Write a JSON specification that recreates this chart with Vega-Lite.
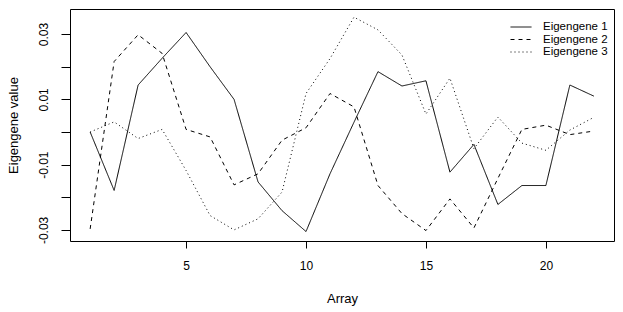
{
  "$schema": "https://vega.github.io/schema/vega-lite/v6.json",
  "width": 544,
  "height": 232,
  "autosize": {"type": "none"},
  "padding": {"left": 70, "top": 9, "right": 9, "bottom": 71},
  "background": "white",
  "config": {
    "font": "Liberation Sans",
    "view": {"stroke": "#000", "strokeWidth": 1},
    "axis": {"grid": false, "domain": false, "tickColor": "#000", "labelColor": "#000", "titleColor": "#000", "labelFont": "Liberation Sans", "titleFont": "Liberation Sans", "titleFontWeight": "normal"}
  },
  "data": {
    "values": [
      {"array": 1, "series": "Eigengene 1", "value": 0.0},
      {"array": 2, "series": "Eigengene 1", "value": -0.0179},
      {"array": 3, "series": "Eigengene 1", "value": 0.0144},
      {"array": 4, "series": "Eigengene 1", "value": 0.0226},
      {"array": 5, "series": "Eigengene 1", "value": 0.0305},
      {"array": 6, "series": "Eigengene 1", "value": 0.0200},
      {"array": 7, "series": "Eigengene 1", "value": 0.0100},
      {"array": 8, "series": "Eigengene 1", "value": -0.0153},
      {"array": 9, "series": "Eigengene 1", "value": -0.0241},
      {"array": 10, "series": "Eigengene 1", "value": -0.0305},
      {"array": 11, "series": "Eigengene 1", "value": -0.0128},
      {"array": 12, "series": "Eigengene 1", "value": 0.0030},
      {"array": 13, "series": "Eigengene 1", "value": 0.0185},
      {"array": 14, "series": "Eigengene 1", "value": 0.0141},
      {"array": 15, "series": "Eigengene 1", "value": 0.0157},
      {"array": 16, "series": "Eigengene 1", "value": -0.0123},
      {"array": 17, "series": "Eigengene 1", "value": -0.0038},
      {"array": 18, "series": "Eigengene 1", "value": -0.0222},
      {"array": 19, "series": "Eigengene 1", "value": -0.0164},
      {"array": 20, "series": "Eigengene 1", "value": -0.0164},
      {"array": 21, "series": "Eigengene 1", "value": 0.0144},
      {"array": 22, "series": "Eigengene 1", "value": 0.0110},
      {"array": 1, "series": "Eigengene 2", "value": -0.0297},
      {"array": 2, "series": "Eigengene 2", "value": 0.0216},
      {"array": 3, "series": "Eigengene 2", "value": 0.0298},
      {"array": 4, "series": "Eigengene 2", "value": 0.0241},
      {"array": 5, "series": "Eigengene 2", "value": 0.0008},
      {"array": 6, "series": "Eigengene 2", "value": -0.0015},
      {"array": 7, "series": "Eigengene 2", "value": -0.0162},
      {"array": 8, "series": "Eigengene 2", "value": -0.0128},
      {"array": 9, "series": "Eigengene 2", "value": -0.0025},
      {"array": 10, "series": "Eigengene 2", "value": 0.0013},
      {"array": 11, "series": "Eigengene 2", "value": 0.0118},
      {"array": 12, "series": "Eigengene 2", "value": 0.0077},
      {"array": 13, "series": "Eigengene 2", "value": -0.0164},
      {"array": 14, "series": "Eigengene 2", "value": -0.0250},
      {"array": 15, "series": "Eigengene 2", "value": -0.0302},
      {"array": 16, "series": "Eigengene 2", "value": -0.0205},
      {"array": 17, "series": "Eigengene 2", "value": -0.0294},
      {"array": 18, "series": "Eigengene 2", "value": -0.0142},
      {"array": 19, "series": "Eigengene 2", "value": 0.0008},
      {"array": 20, "series": "Eigengene 2", "value": 0.0021},
      {"array": 21, "series": "Eigengene 2", "value": -0.0008},
      {"array": 22, "series": "Eigengene 2", "value": 0.0003},
      {"array": 1, "series": "Eigengene 3", "value": 0.0},
      {"array": 2, "series": "Eigengene 3", "value": 0.0031},
      {"array": 3, "series": "Eigengene 3", "value": -0.0020},
      {"array": 4, "series": "Eigengene 3", "value": 0.0008},
      {"array": 5, "series": "Eigengene 3", "value": -0.0118},
      {"array": 6, "series": "Eigengene 3", "value": -0.0256},
      {"array": 7, "series": "Eigengene 3", "value": -0.0300},
      {"array": 8, "series": "Eigengene 3", "value": -0.0266},
      {"array": 9, "series": "Eigengene 3", "value": -0.0184},
      {"array": 10, "series": "Eigengene 3", "value": 0.0118},
      {"array": 11, "series": "Eigengene 3", "value": 0.0225},
      {"array": 12, "series": "Eigengene 3", "value": 0.0352},
      {"array": 13, "series": "Eigengene 3", "value": 0.0313},
      {"array": 14, "series": "Eigengene 3", "value": 0.0236},
      {"array": 15, "series": "Eigengene 3", "value": 0.0055},
      {"array": 16, "series": "Eigengene 3", "value": 0.0165},
      {"array": 17, "series": "Eigengene 3", "value": -0.0051},
      {"array": 18, "series": "Eigengene 3", "value": 0.0046},
      {"array": 19, "series": "Eigengene 3", "value": -0.0034},
      {"array": 20, "series": "Eigengene 3", "value": -0.0056},
      {"array": 21, "series": "Eigengene 3", "value": 0.0006},
      {"array": 22, "series": "Eigengene 3", "value": 0.0045}
    ]
  },
  "mark": {"type": "line", "color": "#000", "strokeWidth": 1},
  "encoding": {
    "x": {
      "field": "array", "type": "quantitative",
      "scale": {"domain": [0.16, 22.84], "nice": false, "zero": false},
      "axis": {"title": "Array", "values": [5, 10, 15, 20], "tickSize": 7, "labelPadding": 12, "labelFontSize": 12, "titleFontSize": 13, "titlePadding": 21, "labelFlush": false}
    },
    "y": {
      "field": "value", "type": "quantitative",
      "scale": {"domain": [-0.0334, 0.0377], "nice": false, "zero": false},
      "axis": {
        "title": "Eigengene value",
        "values": [-0.03, -0.02, -0.01, 0, 0.01, 0.02, 0.03],
        "labelExpr": "abs(round(datum.value*100)) % 2 == 1 ? (datum.value < 0 ? '-' : '') + format(abs(datum.value), '.2f') : ''",
        "labelAngle": -90, "labelAlign": "center", "labelBaseline": "bottom",
        "tickSize": 9, "labelPadding": 11, "labelFontSize": 12, "titleFontSize": 13, "titlePadding": 17, "labelFlush": false
      }
    },
    "strokeDash": {
      "field": "series", "type": "nominal",
      "scale": {"domain": ["Eigengene 1", "Eigengene 2", "Eigengene 3"], "range": [[1, 0], [4, 4], [1, 3]]},
      "legend": {
        "title": null, "orient": "none", "legendX": 440, "legendY": 12,
        "symbolType": "stroke", "symbolSize": 441, "symbolStrokeColor": "#000", "symbolStrokeWidth": 1,
        "labelFontSize": 11.5, "labelColor": "#000", "labelOffset": 11, "rowPadding": 0.5, "clipHeight": 12
      }
    }
  }
}
